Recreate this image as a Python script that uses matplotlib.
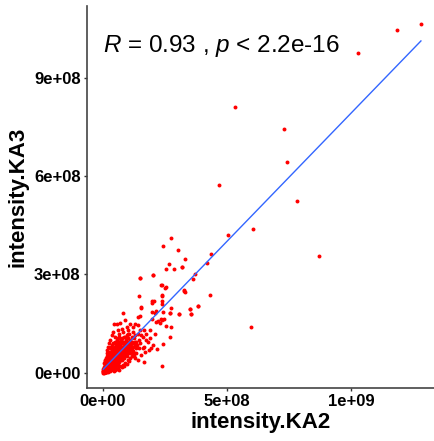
import numpy as np
import matplotlib
matplotlib.use("Agg")
import matplotlib.pyplot as plt

plt.rcParams['font.family'] = ['Liberation Sans', 'DejaVu Sans']
plt.rcParams['mathtext.fontset'] = 'custom'
plt.rcParams['mathtext.it'] = 'Liberation Sans:italic'
plt.rcParams['mathtext.rm'] = 'Liberation Sans'

# ---- data (units of 1e6) ----
outlier_x = [1282, 1184, 1027, 532, 728, 740, 469, 783, 603, 503, 872, 595,
             274, 241, 304, 437, 331, 266, 419, 317, 253, 285, 370, 202, 150,
             364, 235, 253, 325, 331, 430, 238, 145, 204, 196, 239, 384, 152,
             273, 352, 211, 271, 306, 356, 81, 140, 196, 238, 230, 275, 194,
             216, 243, 271, 239, 167, 318, 149, 200, 237, 251, 327, 199, 239,
             237, 384, 352, 355, 305, 270, 153, 148, 215, 199, 242, 235, 223,
             245, 212, 254]
outlier_y = [1062, 1045, 976, 809, 744, 643, 573, 525, 438, 419, 355, 141,
             412, 387, 374, 362, 346, 331, 334, 324, 316, 316, 302, 298, 290,
             285, 267, 261, 253, 247, 238, 236, 233, 219, 214, 210, 204, 200,
             198, 194, 184, 184, 181, 181, 184, 171, 164, 161, 153, 141, 77,
             72, 87, 110, 20, 34, 323, 289, 299, 268, 260, 251, 218, 219,
             235, 204, 194, 180, 180, 184, 199, 173, 190, 186, 186, 163, 159,
             164, 156, 143]

cluster_x = [2, 3, 4, 5, 6, 7, 8, 8, 9, 10, 10, 11, 12, 12, 13, 14, 15, 15, 16, 17,
             18, 18, 19, 20, 20, 21, 22, 23, 24, 25, 25, 26, 27, 28, 29, 30, 30, 31,
             32, 33, 34, 35, 35, 36, 37, 38, 39, 40, 40, 41, 42, 43, 44, 45, 45, 46,
             47, 48, 49, 50, 50, 51, 52, 53, 54, 55, 56, 57, 58, 59, 60, 60, 61, 62,
             63, 64, 65, 66, 67, 68, 69, 70, 71, 72, 73, 74, 75, 76, 77, 78, 79, 80,
             82, 84, 85, 86, 88, 90, 92, 94, 95, 97, 100, 102, 104, 106, 108, 110,
             112, 115, 118, 120, 122, 125, 128, 130,
             1, 2, 3, 4, 5, 6, 1, 3, 5, 7, 9, 11, 13, 2, 4, 6, 7, 9, 12, 14, 16, 17,
             19, 21, 22, 24, 26, 28, 30, 32, 34, 36, 38, 40, 42, 44, 46, 48, 50, 52,
             55, 58, 60, 62, 65, 68, 70, 72, 75, 78, 80, 83, 86, 90, 93, 96, 100,
             105, 110, 115, 120,
             45, 55, 70, 88, 40, 60, 75, 95, 110, 50, 30, 35, 25, 20, 15, 65, 80,
             100, 120, 130, 140, 150,
             135, 145, 155, 165, 140, 150, 170, 180, 160, 175, 190, 200, 210, 185,
             130, 125, 145, 155, 135, 165, 120, 140, 160, 175, 190]
cluster_y = [3, 8, 2, 12, 5, 15, 3, 20, 9, 25, 6, 14, 30, 2, 18, 10, 35, 22, 5, 28,
             14, 40, 20, 8, 32, 45, 25, 15, 38, 50, 10, 30, 20, 42, 55, 35, 15, 25,
             48, 60, 40, 30, 20, 52, 45, 65, 35, 28, 55, 70, 48, 40, 60, 32, 75, 52,
             45, 65, 38, 58, 80, 50, 42, 68, 85, 55, 48, 72, 62, 40, 78, 90, 55, 65,
             50, 82, 70, 60, 95, 75, 55, 85, 65, 100, 78, 60, 90, 70, 105, 80, 65, 95,
             75, 88, 110, 70, 95, 80, 100, 85, 115, 75, 95, 105, 85, 120, 90, 100,
             80, 110, 95, 125, 90, 105, 85, 115,
             1, 6, 4, 9, 3, 10, 5, 1, 7, 4, 2, 7, 4, 12, 15, 18, 9, 14, 9, 3, 12, 7,
             11, 16, 6, 22, 12, 18, 8, 22, 12, 26, 18, 12, 30, 22, 35, 25, 18, 32,
             28, 35, 25, 40, 32, 45, 38, 50, 42, 55, 48, 58, 50, 62, 55, 68, 60,
             70, 62, 75, 68,
             150, 148, 152, 160, 125, 130, 135, 140, 150, 110, 100, 115, 90, 80, 70,
             118, 125, 130, 140, 150, 145, 130,
             60, 75, 55, 80, 40, 90, 65, 95, 110, 120, 105, 85, 120, 70, 45, 50, 100,
             115, 95, 130, 60, 120, 75, 100, 130]

spread_x = [10, 15, 20, 25, 30, 35, 20, 30, 40, 50, 60, 70, 80, 90, 100, 110,
            5, 8, 12, 18, 22, 28, 32, 38, 42, 48, 55, 62, 66, 45, 55, 65, 75, 85,
            95, 105, 115, 125, 90, 100, 105, 112, 118, 122, 128, 132, 138,
            14, 24, 34, 44, 54, 64, 74, 84, 94, 26, 36, 46, 56, 66, 76, 86, 96]
spread_y = [40, 50, 55, 60, 65, 70, 2, 5, 8, 10, 15, 20, 25, 30, 40, 45,
            30, 35, 45, 60, 65, 75, 80, 85, 90, 95, 100, 105, 110, 5, 12, 10, 18, 22,
            28, 35, 50, 60, 110, 120, 75, 88, 70, 80, 95, 75, 85,
            28, 48, 58, 75, 88, 95, 100, 70, 65, 8, 14, 20, 28, 35, 40, 45, 52]

scale = 1e6
x = np.array(outlier_x + cluster_x + spread_x, dtype=float) * scale
y = np.array(outlier_y + cluster_y + spread_y, dtype=float) * scale

fig = plt.figure(figsize=(4.34, 4.41), dpi=100)
ax = fig.add_axes([87/434, 1 - 388/441, 1 - 87/434, (388 - 6)/441])

ax.scatter(x, y, s=8, color='#FF0000', linewidths=0, zorder=2)

slope, intercept = np.polyfit(x, y, 1)
xl = np.array([x.min(), x.max()])
ax.plot(xl, slope * xl + intercept, color='#3366FF', lw=1.0, zorder=3)

ax.set_xlim(-6.45e7, 1.3347e9)
ax.set_ylim(-4.6e7, 1.118e9)

xt = [0, 5e8, 1e9]
yt = [0, 3e8, 6e8, 9e8]
ax.set_xticks(xt)
ax.set_xticklabels(['0e+00', '5e+08', '1e+09'])
ax.set_yticks(yt)
ax.set_yticklabels(['0e+00', '3e+08', '6e+08', '9e+08'])
for lab in ax.get_xticklabels() + ax.get_yticklabels():
    lab.set_fontweight('bold')
    lab.set_fontsize(12)
    lab.set_color('black')
ax.tick_params(length=2.5, width=1, color='#333333', pad=2)

for s in ['top', 'right']:
    ax.spines[s].set_visible(False)
for s in ['left', 'bottom']:
    ax.spines[s].set_color('#444444')
    ax.spines[s].set_linewidth(1.2)

ax.set_xlabel('intensity.KA2', fontsize=16, fontweight='bold', labelpad=2)
ax.set_ylabel('intensity.KA3', fontsize=16, fontweight='bold', labelpad=4)

ax.text(0.047, 0.880, r'$R$ = 0.93 , $p$ < 2.2e-16', transform=ax.transAxes,
        fontsize=17.5, ha='left', va='baseline')

fig.savefig('out.png', dpi=100)
